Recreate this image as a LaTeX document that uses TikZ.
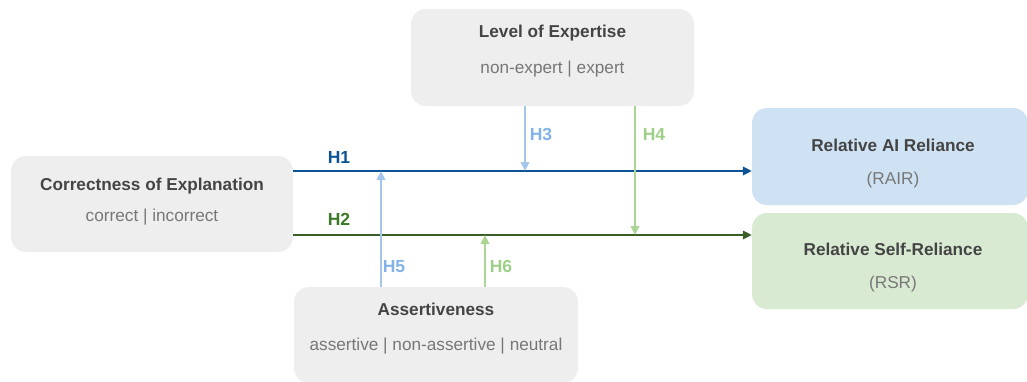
\documentclass[tikz,border=0pt]{standalone}
\usepackage{fontspec}
\setmainfont{Liberation Sans}
\usetikzlibrary{arrows.meta}
\definecolor{boxgray}{HTML}{EEEEEE}
\definecolor{boxblue}{HTML}{CFE2F3}
\definecolor{boxgreen}{HTML}{D9EAD3}
\definecolor{titlecol}{HTML}{444444}
\definecolor{subcol}{HTML}{777777}
\definecolor{hdarkblue}{HTML}{0B5394}
\definecolor{hdarkgreen}{HTML}{3A5E28}
\definecolor{ldarkgreen}{HTML}{3D7A27}
\definecolor{hlightblue}{HTML}{A4C6EA}
\definecolor{llightblue}{HTML}{82B3E6}
\definecolor{hlightgreen}{HTML}{ABD495}
\definecolor{llightgreen}{HTML}{9DCF86}
\tikzset{
  varbox/.style={rounded corners=15pt, draw=none, inner sep=0pt},
  titletext/.style={font=\fontsize{17.2}{20}\selectfont\bfseries, text=titlecol, inner sep=0pt, text height=12pt, text depth=0pt, anchor=center},
  subtext/.style={font=\fontsize{17.2}{20}\selectfont, text=subcol, inner sep=0pt, text height=12pt, text depth=0pt, anchor=center},
  hlabel/.style={font=\fontsize{17.5}{20}\selectfont\bfseries, inner sep=0pt, text height=12.5pt, text depth=0pt, anchor=center},
  harrow/.style={line width=2.2pt, -{Triangle[length=9pt,width=8.5pt]}},
}
\begin{document}
\begin{tikzpicture}[x=1pt,y=-1pt]
\useasboundingbox (0,0) rectangle (1027,381);
% boxes
\node[varbox, fill=boxgray, minimum width=282pt, minimum height=96pt] (corr) at (152,204) {};
\node[varbox, fill=boxgray, minimum width=283pt, minimum height=97pt] (level) at (552.5,57.5) {};
\node[varbox, fill=boxgray, minimum width=284pt, minimum height=96pt] (assert) at (436,335) {};
\node[varbox, fill=boxblue, minimum width=276pt, minimum height=97pt] (rair) at (890,156.5) {};
\node[varbox, fill=boxgreen, minimum width=276pt, minimum height=96pt] (rsr) at (890,261) {};
% texts
\node[titletext] (corrT) at (152,184) {Correctness of Explanation};
\node[subtext] (corrS) at (152,215) {correct | incorrect};
\node[titletext] (levelT) at (552.5,31) {Level of Expertise};
\node[subtext] (levelS) at (552.5,67) {non-expert | expert};
\node[titletext] (assertT) at (436,309) {Assertiveness};
\node[subtext] (assertS) at (436,344) {assertive | non-assertive | neutral};
\node[titletext] (rairT) at (893,145) {Relative AI Reliance};
\node[subtext] (rairS) at (893,178) {(RAIR)};
\node[titletext] (rsrT) at (893,249) {Relative Self-Reliance};
\node[subtext] (rsrS) at (893,282) {(RSR)};
% reference coordinates
\coordinate (l1) at (0,171);
\coordinate (l2) at (0,235);
\coordinate (v3) at (525,0);
\coordinate (v4) at (635,0);
\coordinate (v5) at (381,0);
\coordinate (v6) at (485,0);
\coordinate (p3) at (v3 |- l1);
\coordinate (p4) at (v4 |- l2);
\coordinate (p5) at (v5 |- l1);
\coordinate (p6) at (v6 |- l2);
% main arrows
\draw[harrow, hdarkblue] (corr.east |- l1) -- (rair.west |- l1);
\draw[harrow, hdarkgreen] (corr.east |- l2) -- (rsr.west |- l2);
% moderator arrows
\draw[harrow, hlightblue] (assert.north -| v5) -- (p5);
\draw[harrow, hlightgreen] (assert.north -| v6) -- (p6);
\draw[harrow, hlightblue] (level.south -| v3) -- (p3);
\draw[harrow, hlightgreen] (level.south -| v4) -- (p4);
% labels
\node[hlabel, text=hdarkblue] (lh1) at (339,157) {H1};
\node[hlabel, text=ldarkgreen] (lh2) at (339,219) {H2};
\node[hlabel, text=llightblue] (lh3) at (541,134) {H3};
\node[hlabel, text=llightgreen] (lh4) at (654,134) {H4};
\node[hlabel, text=llightblue] (lh5) at (394,266) {H5};
\node[hlabel, text=llightgreen] (lh6) at (501,266) {H6};
\end{tikzpicture}
\end{document}
